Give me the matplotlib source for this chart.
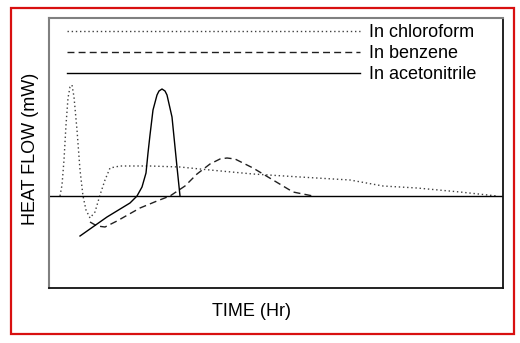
import matplotlib
matplotlib.use("Agg")
import matplotlib.pyplot as plt
from matplotlib.patches import Rectangle

plt.rcParams['font.family'] = ['Liberation Sans', 'DejaVu Sans']

# Heat flow traces (arbitrary time units, heat flow relative to baseline)
chloroform_t = [11, 13, 15, 17, 19, 21, 23, 25, 28, 31, 34, 37, 41, 46, 51, 56, 61,
                71, 101, 131, 161, 204, 251, 301, 334, 368, 411, 448]
chloroform_hf = [0, 11, 36, 71, 98, 109, 111, 99, 66, 26, 0, -14, -22, -16, 1, 16, 28,
                 30, 30, 29, 26, 22, 19, 16, 10, 8, 4, 0]

benzene_t = [41, 48, 56, 68, 91, 108, 121, 136, 148, 161, 171, 178, 186, 204, 224, 244, 264]
benzene_hf = [-26, -30, -31, -25, -12, -5, 0, 10, 22, 32, 37, 38, 37, 28, 16, 4, 0]

acetonitrile_t = [31, 58, 81, 88, 93, 97, 99, 101, 104, 108, 110, 113, 116, 118,
                  123, 125, 128, 131]
acetonitrile_hf = [-40, -21, -7, 0, 9, 23, 43, 61, 86, 101, 105, 107, 105, 101,
                   79, 59, 29, 0]

labels = ["In chloroform", "In benzene", "In acetonitrile"]

W, H = 520, 343
fig = plt.figure(figsize=(W / 100, H / 100), dpi=100)

# red outer frame
fig.patches.append(Rectangle((11 / W, 1 - 334 / H), (514 - 11) / W, (334 - 8) / H,
                             transform=fig.transFigure, fill=False,
                             edgecolor='#d81010', linewidth=1.6))

ax = fig.add_axes([49 / W, 1 - 288 / H, 454 / W, 270 / H])
ax.set_xlim(0, 454)
ax.set_ylim(-92, 178)

l1, = ax.plot(chloroform_t, chloroform_hf, color='#404040', lw=1.0,
              linestyle=(0, (1, 2)), label=labels[0])
l2, = ax.plot(benzene_t, benzene_hf, color='#202020', lw=1.0,
              linestyle=(0, (5, 3)), label=labels[1])
l3, = ax.plot(acetonitrile_t, acetonitrile_hf, color='black', lw=1.0,
              linestyle='-', label=labels[2])
ax.axhline(0, color='black', lw=1.0)

ax.set_xticks([])
ax.set_yticks([])
for side in ('left', 'top'):
    ax.spines[side].set_color('#808080')
    ax.spines[side].set_linewidth(1.5)
for side in ('right', 'bottom'):
    ax.spines[side].set_color('#111111')
    ax.spines[side].set_linewidth(1.3)

leg = ax.legend(handles=[l1, l2, l3], loc='upper left',
                bbox_to_anchor=(18 / 454, 1 - 6 / 270), frameon=False,
                fontsize=13, handlelength=16.2, handletextpad=0.55,
                labelspacing=0.22, borderpad=0, borderaxespad=0)

fig.text(252 / W, 1 - 311 / H, "TIME (Hr)", fontsize=13, ha='center', va='center')
fig.text(31 / W, 1 - 149 / H, "HEAT FLOW (mW)", fontsize=13, ha='center',
         va='center', rotation=90)

fig.savefig("out.png", dpi=100)
